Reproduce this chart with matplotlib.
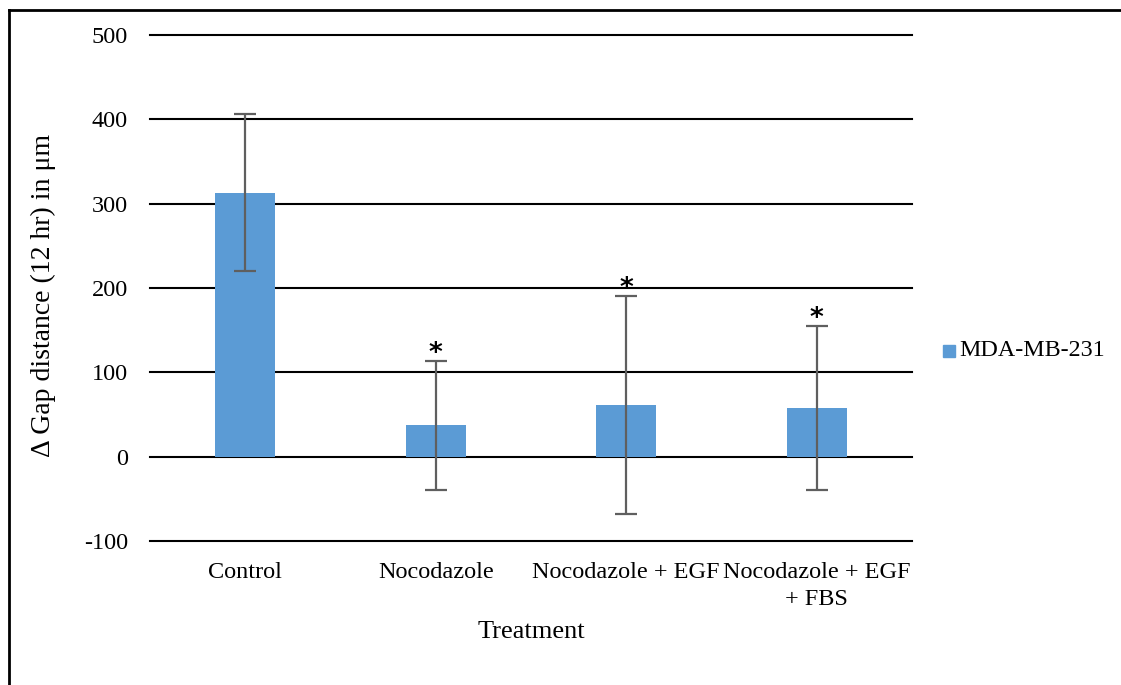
import matplotlib
matplotlib.use("Agg")
import matplotlib.pyplot as plt
from matplotlib.patches import Rectangle

categories = ["Control", "Nocodazole", "Nocodazole + EGF", "Nocodazole + EGF\n+ FBS"]
values = [313, 37, 61, 58]
errors = [93, 76, 129, 97]
significant = [False, True, True, True]
y_ticks = [-100, 0, 100, 200, 300, 400, 500]
series_name = "MDA-MB-231"

plt.rcParams['font.family'] = ['Liberation Serif', 'DejaVu Serif']

fig = plt.figure(figsize=(11.21, 6.85), dpi=100)
W, H = 1121, 685
ax = fig.add_axes([150 / W, 1 - 541 / H, (912 - 150) / W, (541 - 35) / H])

x = list(range(len(categories)))
ax.bar(x, values, width=0.315, color="#5B9BD5", zorder=3)
ax.errorbar(x, values, yerr=errors, fmt="none", ecolor="#5f5f5f", elinewidth=1.6,
            capsize=8, capthick=1.6, zorder=4)
for xi, v, e, s in zip(x, values, errors, significant):
    if s:
        ax.annotate("*", (xi, v + e), xytext=(0, 5), textcoords="offset points",
                    ha="center", va="center", fontsize=19, fontweight="bold",
                    family=["DejaVu Sans"])

ax.set_xlim(-0.5, 3.5)
ax.set_ylim(-100, 500)
ax.set_yticks(y_ticks)
ax.set_yticklabels([str(t) for t in y_ticks])
for t in y_ticks:
    ax.axhline(t, color="black", lw=1.5, zorder=1, clip_on=False)
ax.set_xticks(x)
ax.set_xticklabels(categories, fontsize=17.5, linespacing=1.4)
ax.tick_params(axis="both", length=0, labelsize=17.5)
ax.tick_params(axis="y", pad=16)
ax.tick_params(axis="x", pad=15)
for sp in ax.spines.values():
    sp.set_visible(False)

ax.set_xlabel("Treatment", fontsize=19, labelpad=8)
ax.set_ylabel("Δ Gap distance (12 hr) in μm", fontsize=20, labelpad=20)
ax.yaxis.label.set_y((541 - 295) / 506)

# legend
fig.patches.append(Rectangle((943 / W, 1 - 357 / H), 12 / W, 12 / H,
                             transform=fig.transFigure, color="#5B9BD5"))
fig.text(959 / W, 1 - 350 / H, series_name, fontsize=17.3, va="center", ha="left")

# frame
fig.add_artist(plt.Line2D([9 / W, 9 / W], [0, 1 - 10 / H], transform=fig.transFigure,
                          color="black", lw=2))
fig.add_artist(plt.Line2D([9 / W, 1], [1 - 10 / H, 1 - 10 / H], transform=fig.transFigure,
                          color="black", lw=2))

fig.savefig("out.png", dpi=100)
